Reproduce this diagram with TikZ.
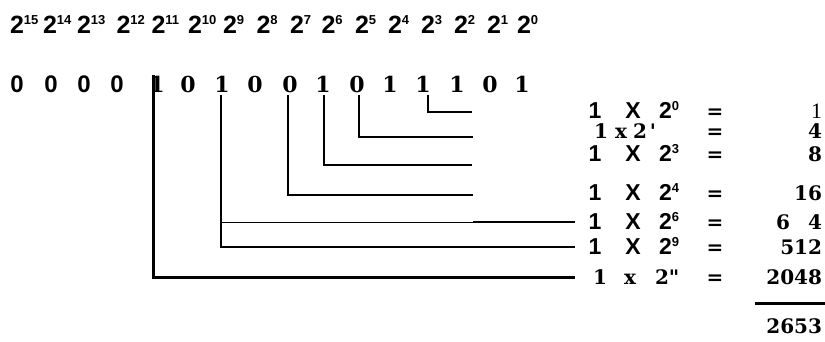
\documentclass[tikz,border=0pt]{standalone}
\usepackage{fontspec}
\newfontfamily\hel{Liberation Sans}
\newfontfamily\dser{DejaVu Serif}
\newfontfamily\lser{Liberation Serif}
\newcommand\topsz{\fontsize{25}{25}\selectfont}
\newcommand\supsz{\fontsize{13}{13}\selectfont}
\newcommand\bitsz{\fontsize{22}{22}\selectfont}
\newcommand\zerosz{\fontsize{24}{24}\selectfont}
\newcommand\eqsz{\fontsize{23}{23}\selectfont}
\newcommand\numsz{\fontsize{20}{20}\selectfont}
\newcommand\eqsup{\fontsize{13}{13}\selectfont}
\newcommand\pwr[1]{2\raisebox{8.5pt}{\supsz #1}}
\newcommand\epw[1]{2\raisebox{7.5pt}{\eqsup #1}}
\tikzset{
  every node/.style={inner sep=0pt, outer sep=0pt},
  toprow/.style={anchor=base west, font=\hel\bfseries\topsz},
  sbit/.style={anchor=base, font=\hel\bfseries\zerosz},
  rbit/.style={anchor=base, font=\dser\bfseries\bitsz},
  seq/.style={anchor=base, font=\hel\bfseries\eqsz},
  req/.style={anchor=base, font=\dser\bfseries\numsz},
  rnum/.style={anchor=base east, font=\dser\bfseries\numsz},
  wire/.style={line width=1.7pt},
  thickwire/.style={line width=3pt},
  thinwire/.style={line width=0.9pt}
}
\begin{document}
\begin{tikzpicture}[x=1pt,y=-1pt]
\useasboundingbox (0,0) rectangle (825,341);
% top row of powers
\foreach \e/\x in {15/10,14/43,13/77,12/116.5,11/151.5,10/188,9/223,8/256.5,7/290,6/321.5,5/355,4/388,3/421,2/454,1/487,0/517}
  \node[toprow] (p\e) at (\x,33) {\pwr{\e}};
% bit row
\foreach \i/\x in {a/17,b/51,c/84,d/117}
  \node[sbit] (z\i) at (\x,92) {0};
\foreach \i/\x/\b in {11/157/1,10/188/0,9/222/1,8/255/0,7/290/0,6/323/1,5/357/0,4/390/1,3/423/1,2/457/1,1/490/0,0/522/1}
  \node[rbit] (b\i) at (\x,92) {\b};
% equations rows
\foreach \r/\y/\e in {a/118/0,c/161/3,d/200/4,e/229/6,f/254/9}{
  \node[seq] (one\r) at (595,\y) {1};
  \node[seq] (x\r) at (633,\y) {X};
  \node[seq, anchor=base west] (pw\r) at (659,\y) {\epw{\e}};
  \node[req] (eq\r) at (715,\y) {=};
}
\node[req] (oneb) at (601,138) {1};
\node[req] (xb) at (621,138) {x};
\node[req] (twob) at (640,138) {2};
\node[req] (apb) at (653,138) {'};
\node[req] (eqb) at (715,138) {=};
\node[req] (oneg) at (600,284) {1};
\node[req] (xg) at (630,284) {x};
\node[req, anchor=base west] (twog) at (655,284) {2"};
\node[req] (eqg) at (715,284) {=};
% results
\node[rnum, font=\lser\fontsize{22}{22}\selectfont] (ra) at (822,118) {1};
\node[rnum] (rb) at (822,138) {4};
\node[rnum] (rc) at (822,161) {8};
\node[rnum] (rd) at (822,200) {16};
\node[rnum] (re) at (822,229) {4};
\node[rnum] (re6) at (790,229) {6};
\node[rnum] (rf) at (822,254) {512};
\node[rnum] (rg) at (822,284) {2048};
\node[rnum] (tot) at (822,333) {2653};
% connector corner coordinates
\coordinate (t11) at (153,75);  \coordinate (c11) at (153,277); \coordinate (e11) at (575,277);
\coordinate (t9) at (221,95);   \coordinate (c9) at (221,247);  \coordinate (e9) at (575,247);
\coordinate (s6) at (221,222);  \coordinate (m6) at (473,222);  \coordinate (e6) at (575,222);
\coordinate (t4) at (288,95);   \coordinate (e4) at (473,195);
\coordinate (t3) at (324,95);   \coordinate (e3) at (472,165);
\coordinate (t2) at (359,95);   \coordinate (e2) at (473,137);
\coordinate (t0) at (428,95);   \coordinate (e0) at (472,112);
\coordinate (s1) at (755,303);  \coordinate (s2) at (825,303);
\draw[thickwire] (t11) -- (c11) -- (e11);
\draw[wire] (t9) -- (c9) -- (e9);
\draw[thinwire] (s6) -- (m6);
\draw[wire] (m6) -- (e6);
\draw[wire] (t4) |- (e4);
\draw[wire] (t3) |- (e3);
\draw[wire] (t2) |- (e2);
\draw[wire] (t0) |- (e0);
\draw[thickwire] (s1) -- (s2);
\end{tikzpicture}
\end{document}
